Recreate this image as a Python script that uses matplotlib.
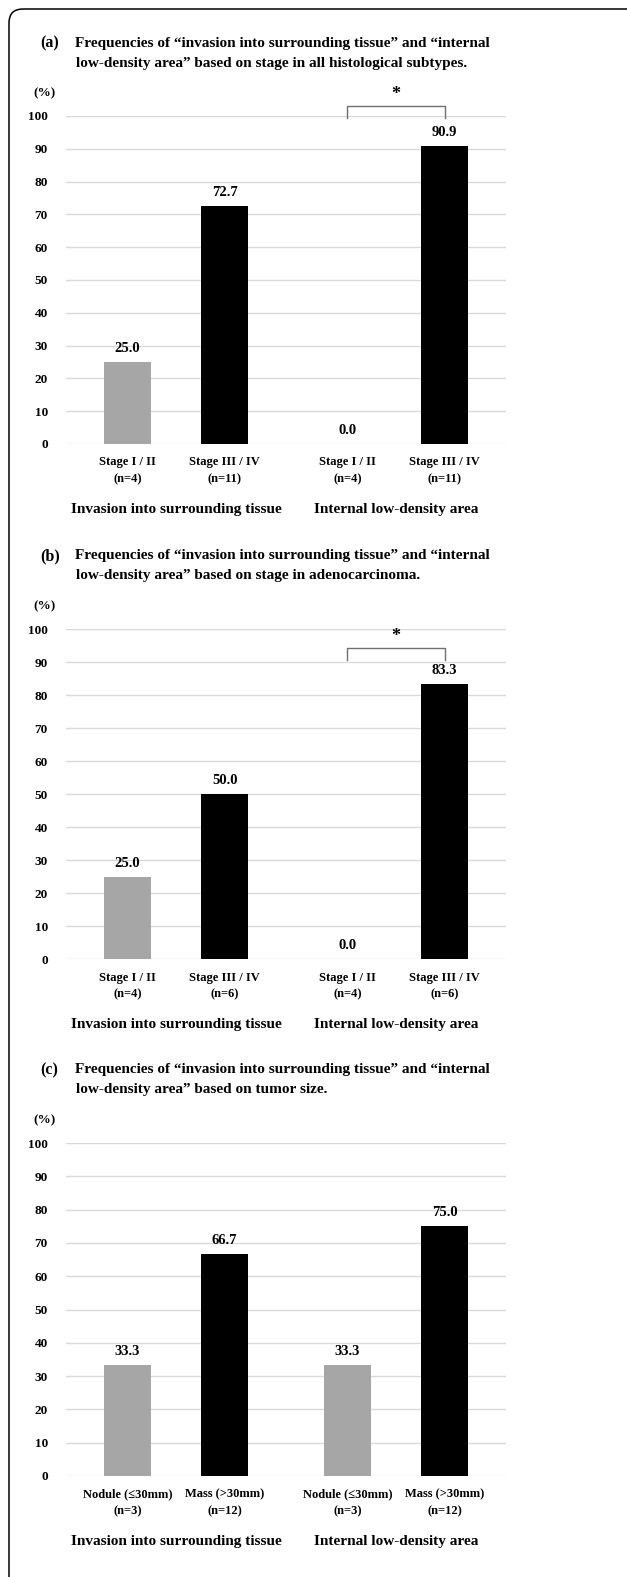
import numpy as np
import matplotlib.pyplot as plt
from matplotlib.patches import FancyBboxPatch

plt.rcParams['font.family'] = ['Liberation Serif', 'DejaVu Serif']
plt.rcParams['font.weight'] = 'bold'

W, H = 627, 1577  # figure size in pixels

groups = ["Invasion into surrounding tissue", "Internal low-density area"]

# panel (a) all histological subtypes
a_title = ["Frequencies of \u201cinvasion into surrounding tissue\u201d and \u201cinternal",
           "low-density area\u201d based on stage in all histological subtypes."]
a_ticks = ["Stage I / II\n(n=4)", "Stage III / IV\n(n=11)"]
a_low = [25.0, 0.0]
a_high = [72.7, 90.9]

# panel (b) adenocarcinoma
b_title = ["Frequencies of \u201cinvasion into surrounding tissue\u201d and \u201cinternal",
           "low-density area\u201d based on stage in adenocarcinoma."]
b_ticks = ["Stage I / II\n(n=4)", "Stage III / IV\n(n=6)"]
b_low = [25.0, 0.0]
b_high = [50.0, 83.3]

# panel (c) tumor size
c_title = ["Frequencies of \u201cinvasion into surrounding tissue\u201d and \u201cinternal",
           "low-density area\u201d based on tumor size."]
c_ticks = ["Nodule (\u226430mm)\n(n=3)", "Mass (>30mm)\n(n=12)"]
c_low = [33.3, 33.3]
c_high = [66.7, 75.0]

# significance bracket on "internal low-density area" (top, leg end, star)
a_sig = (103.0, 99.3, 106.5)
b_sig = (94.2, 90.5, 97.8)
c_sig = None

panels = [
    ("(a)", a_title, a_ticks, a_low, a_high, a_sig, 116, 444),
    ("(b)", b_title, b_ticks, b_low, b_high, b_sig, 629, 959),
    ("(c)", c_title, c_ticks, c_low, c_high, c_sig, 1143, 1476),
]

fig = plt.figure(figsize=(W / 100, H / 100), dpi=100)
fig.patch.set_facecolor('white')

# overlay in pixel coordinates for titles and frame
ov = fig.add_axes([0, 0, 1, 1])
ov.set_xlim(0, W)
ov.set_ylim(H, 0)
ov.axis('off')
ov.add_patch(FancyBboxPatch((9, 9), W + 40, H + 40, boxstyle="round,pad=0,rounding_size=14",
                            fc='none', ec='black', lw=1.1))

left, right = 66, 506
off = 0.221
bw = 0.217
x = np.arange(len(groups))

for tag, title, ticks, low, high, sig, ytop, yzero in panels:
    ov.text(40, ytop - 73, tag, fontsize=11.5, va='center', ha='left')
    ov.text(75, ytop - 73, title[0], fontsize=11, va='center', ha='left')
    ov.text(76, ytop - 53, title[1], fontsize=11, va='center', ha='left')
    ov.text(44, ytop - 23, "(%)", fontsize=9.5, va='center', ha='center')

    ax = fig.add_axes([left / W, 1 - yzero / H, (right - left) / W, (yzero - ytop) / H])
    ax.bar(x - off, low, bw, color='#a6a6a6')
    ax.bar(x + off, high, bw, color='black')
    for xi, v in zip(x - off, low):
        ax.annotate(f"{v:.1f}", (xi, v), xytext=(0, 5), textcoords='offset points',
                    ha='center', va='bottom', fontsize=10.5)
    for xi, v in zip(x + off, high):
        ax.annotate(f"{v:.1f}", (xi, v), xytext=(0, 5), textcoords='offset points',
                    ha='center', va='bottom', fontsize=10.5)

    ax.set_xlim(-0.5, 1.5)
    ax.set_ylim(0, 100)
    ax.set_yticks(range(0, 101, 10))
    ax.yaxis.grid(True, color='#d9d9d9', lw=1.0)
    ax.set_axisbelow(True)
    for s in ax.spines.values():
        s.set_visible(False)
    ax.tick_params(axis='y', length=0, pad=13, labelsize=9.5)
    ax.set_xticks(np.concatenate([x - off, x + off]))
    ax.set_xticklabels([ticks[0], ticks[0], ticks[1], ticks[1]])
    ax.tick_params(axis='x', length=0, pad=9, labelsize=9)
    for lab in ax.get_xticklabels():
        lab.set_linespacing(1.55)

    for xi, g in zip(x, groups):
        ax.annotate(g, (xi, 0), xycoords=('data', 'axes fraction'), xytext=(0, -47),
                    textcoords='offset points', ha='center', va='center', fontsize=11)

    if sig is not None:
        top, leg, star = sig
        x0, x1 = x[1] - off, x[1] + off
        ax.plot([x0, x0, x1, x1], [leg, top, top, leg], color='#6f6f6f', lw=1.0, clip_on=False)
        ax.text((x0 + x1) / 2, star, "*", ha='center', va='center', fontsize=13)

fig.savefig("out.png", dpi=100)
